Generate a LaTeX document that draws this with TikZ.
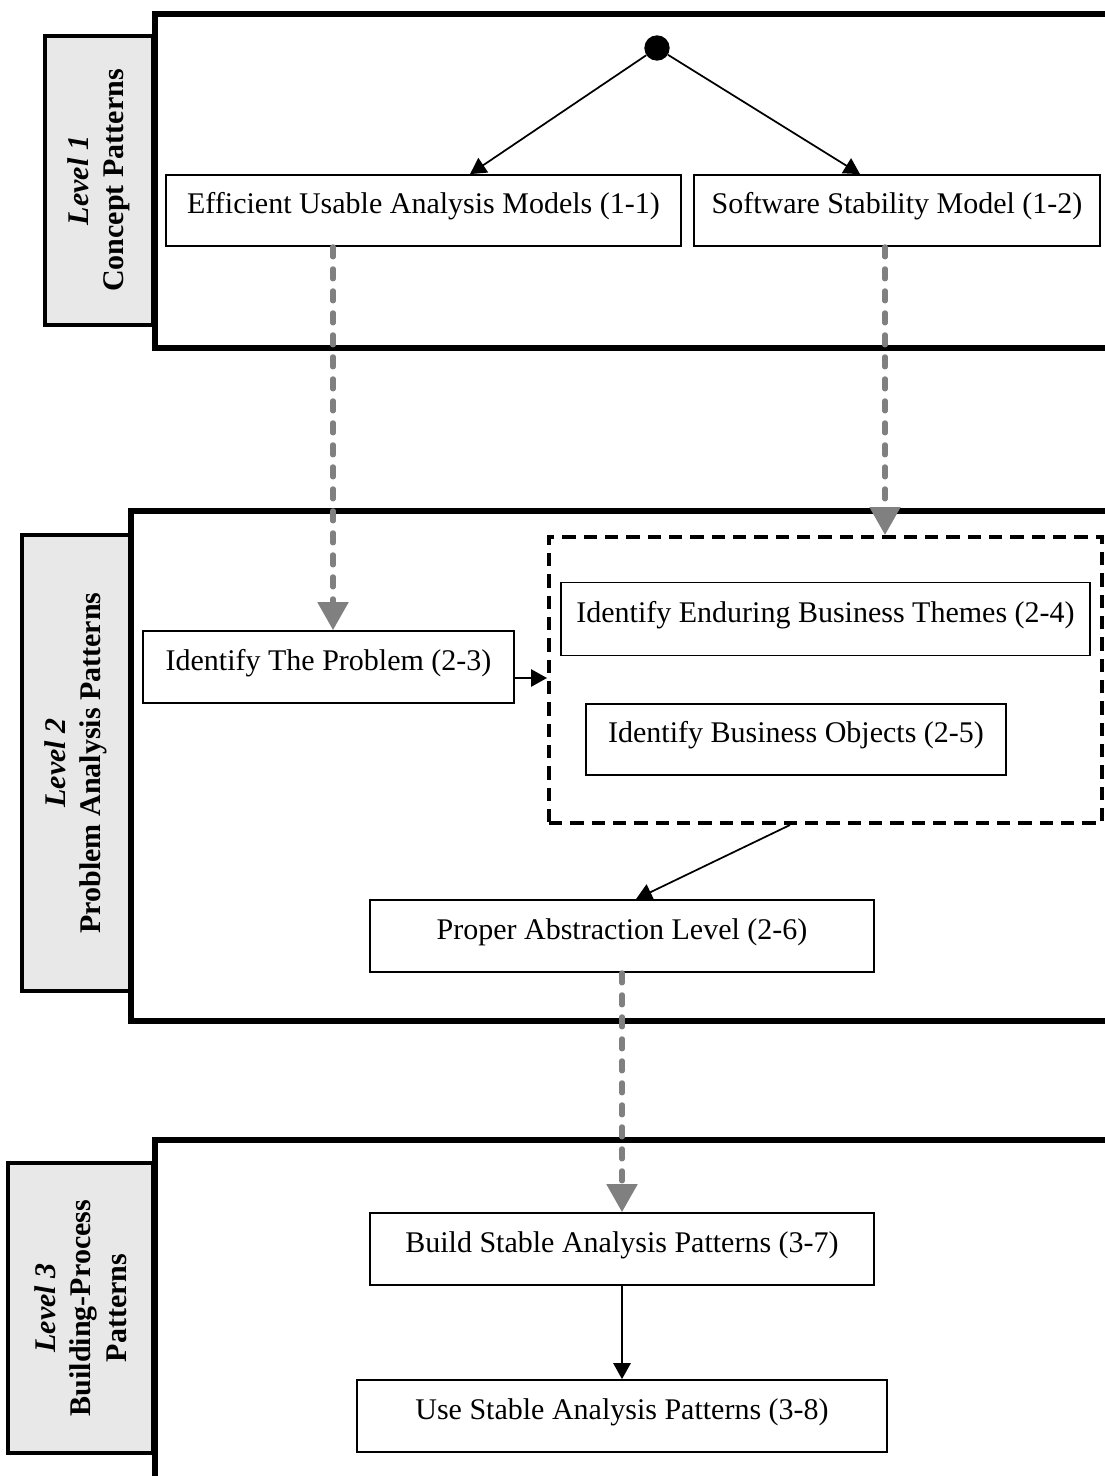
\documentclass[tikz,border=0pt]{standalone}
\usepackage{fontspec}
\setmainfont{Liberation Serif}
\usetikzlibrary{arrows.meta,calc}
\begin{document}
\begin{tikzpicture}[x=0.75pt,y=-0.75pt,
  every node/.style={font=\fontsize{22.5}{27}\selectfont},
  frame/.style={draw, line width=4.5pt},
  tab/.style={draw, line width=2.4pt, fill=black!9, align=center,
    font=\fontsize{22.5}{26.5}\selectfont\bfseries, inner sep=0pt},
  pbox/.style={draw, line width=1.3pt, fill=white, text height=15.75pt,
    text depth=11.25pt, inner sep=0pt},
  sz/.style 2 args={minimum width=#1*0.75pt, minimum height=#2*0.75pt},
  flow/.style={draw, line width=1.3pt, -{Triangle[length=12pt,width=13pt]}},
  trace/.style={draw=gray, line width=3.9pt, line cap=round,
    dash pattern=on 7.5pt off 9pt, -{Triangle[length=21pt,width=22.5pt]}},
  group/.style={draw, line width=3pt, dash pattern=on 10pt off 6pt, inner sep=0pt},
]
\useasboundingbox (0,0) rectangle (1105,1476);
\clip (0,0) rectangle (1105,1476);

% level tabs
\node[tab, rotate=90, sz={289}{108}] (tab1) at (99,180.5)
  {\textit{Level 1}\\Concept Patterns};
\node[tab, rotate=90, sz={456}{108}] (tab2) at (76,763)
  {\textit{Level 2}\\Problem Analysis Patterns};
\node[tab, rotate=90, sz={290}{145}] (tab3) at (80.5,1308)
  {\textit{Level 3}\\Building-Process\\Patterns};

% level frames (open to the right)
\draw[frame] (1130,14) -- (155,14) -- (155,348) -- (1130,348);
\draw[frame] (1130,511) -- (131,511) -- (131,1021) -- (1130,1021);
\draw[frame] (1130,1140) -- (155,1140) -- (155,1500);

% level 1
\node[circle, fill, inner sep=0pt, minimum size=19pt] (dot) at (657,48) {};
\node[pbox, sz={515}{71}] (b11) at (423.5,210.5) {Efficient Usable Analysis Models (1-1)};
\node[pbox, sz={406}{71}] (b12) at (897,210.5) {Software Stability Model (1-2)};

% level 2
\node[group, sz={553}{286}] (grp) at (825.5,680) {};
\node[pbox, sz={371}{72}] (b23) at (328.5,667) {Identify The Problem (2-3)};
\node[pbox, sz={529}{73}] (b24) at (825.5,619) {Identify Enduring Business Themes (2-4)};
\node[pbox, sz={420}{71}] (b25) at (796,739.5) {Identify Business Objects (2-5)};
\node[pbox, sz={504}{72}] (b26) at (622,936) {Proper Abstraction Level (2-6)};

% level 3
\node[pbox, sz={504}{72}] (b37) at (622,1249) {Build Stable Analysis Patterns (3-7)};
\node[pbox, sz={530}{72}] (b38) at (622,1416) {Use Stable Analysis Patterns (3-8)};

% connectors
\draw[flow] (dot) -- (b11.north -| 470,0);
\draw[flow] (dot) -- (b12.north -| 860,0);
\draw[trace] (b11.south -| 333,0) -- (b23.north -| 333,0);
\draw[trace] (b12.south -| 885,0) -- (grp.north -| 885,0);
\draw[flow] (b23.east |- 0,678) -- (grp.west |- 0,678);
\draw[flow] (grp.south -| 790,0) -- (b26.north -| 636,0);
\draw[trace] (b26) -- (b37);
\draw[flow] (b37) -- (b38);
\end{tikzpicture}
\end{document}
